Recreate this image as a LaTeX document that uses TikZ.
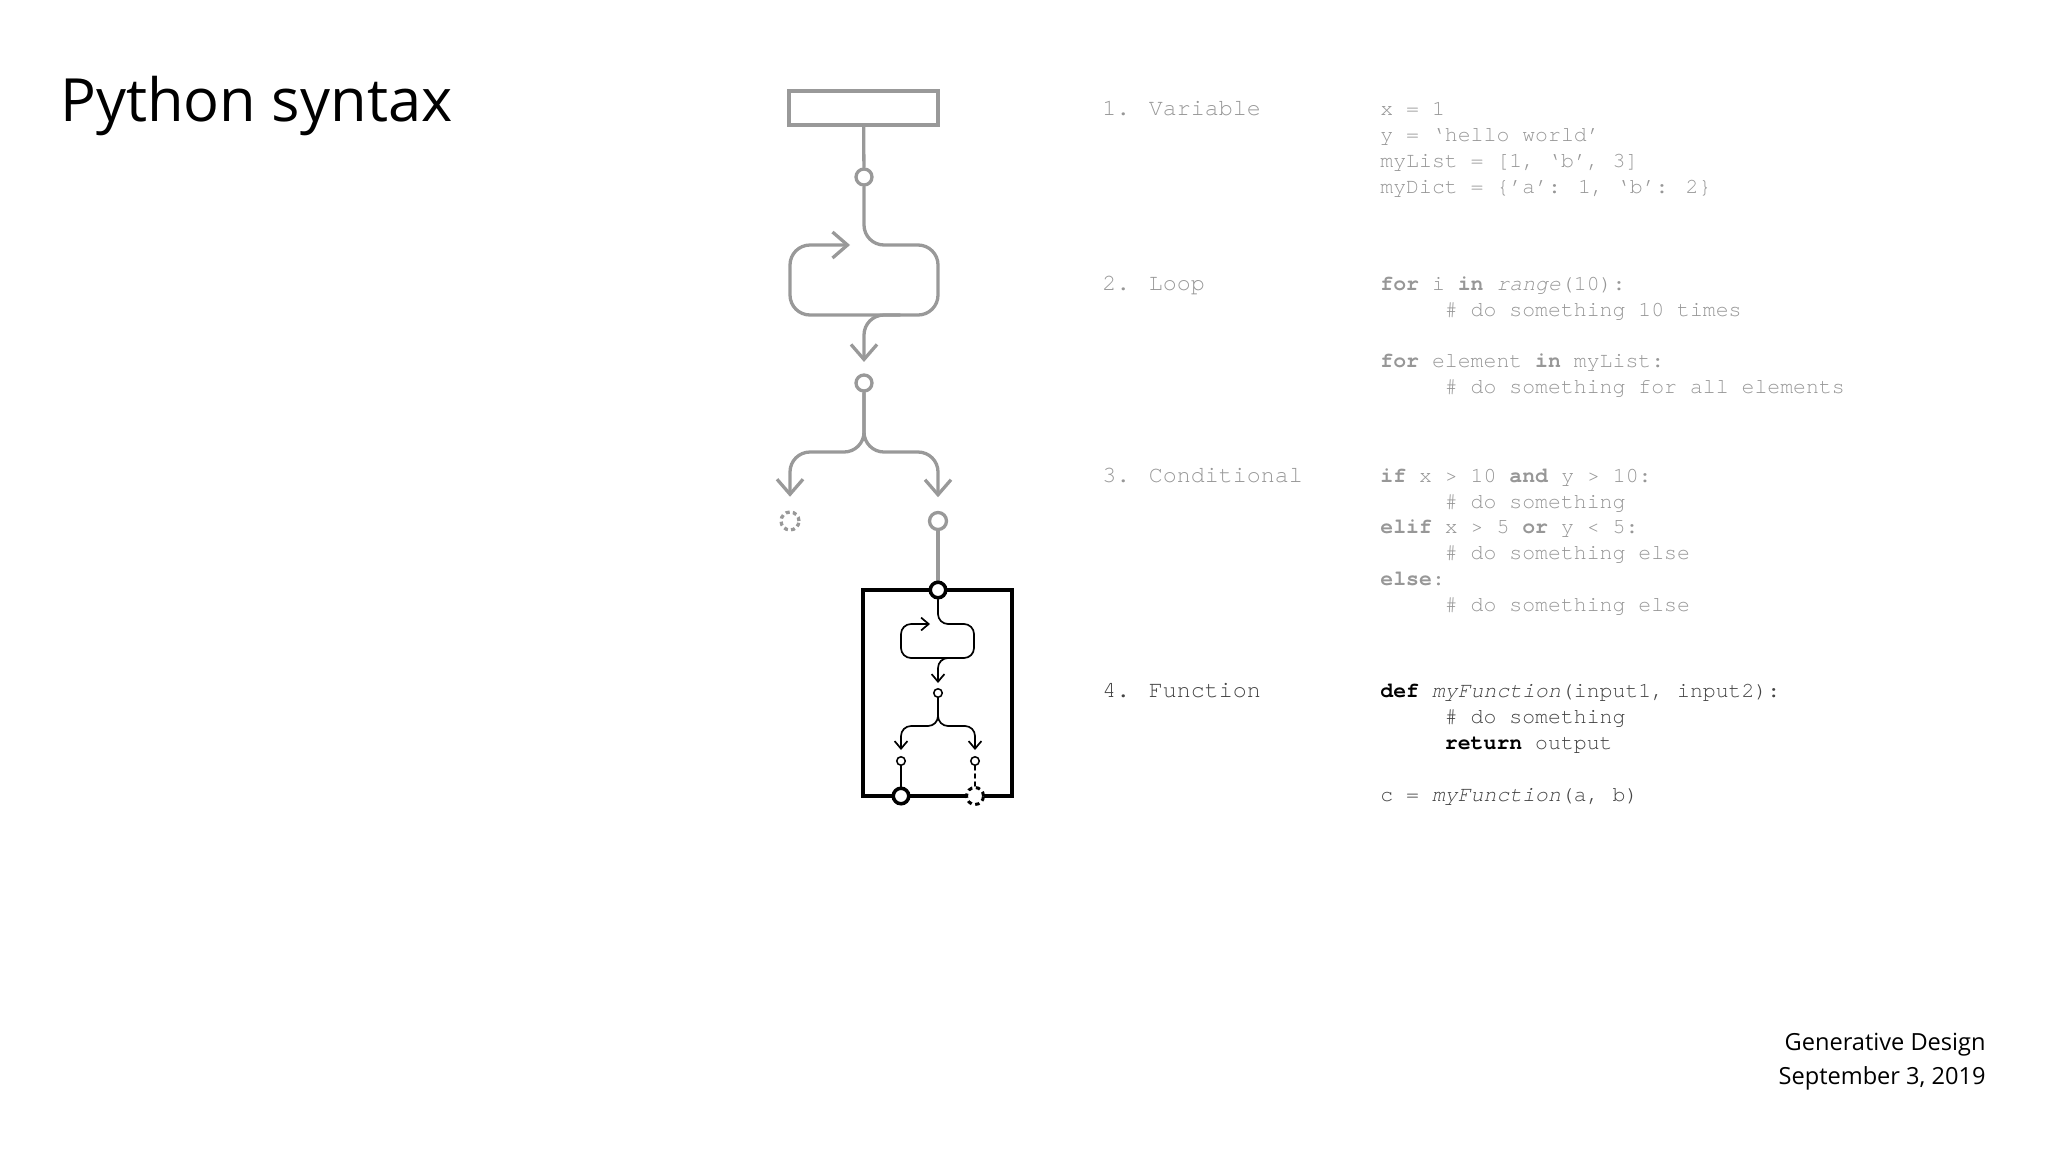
\documentclass[tikz,border=0pt]{standalone}
\usepackage{fontspec}
\setmainfont{Open Sans}
\newfontfamily\codefont{texgyrecursor}[Extension=.otf, UprightFont=*-regular, BoldFont=*-bold, ItalicFont=*-italic, BoldItalicFont=*-bolditalic]
\usetikzlibrary{arrows.meta}
\definecolor{lgray}{HTML}{999999}
\definecolor{tgray}{HTML}{979797}
\definecolor{tdark}{HTML}{444444}
\newcommand\codeind{\phantom{xxxxx}}
\newcommand\kwd[1]{\textbf{#1}}
\newcommand\dkwd[1]{\textbf{\color{black}#1}}
\tikzset{
  gline/.style={draw=lgray, line width=1.65pt, line cap=round, line join=round},
  bline/.style={draw=black, line width=0.85pt, line cap=round, line join=round},
  gtip/.style={-{Straight Barb[length=7.5pt,width=13pt]}},
  btip/.style={-{Straight Barb[length=3.8pt,width=6.4pt]}},
  gport/.style={circle, inner sep=0pt, minimum size=8pt, fill=white, draw=lgray, line width=1.65pt},
  gdport/.style={gport, minimum size=9pt, dash pattern=on 2pt off 1.6pt},
  bport/.style={circle, inner sep=0pt, minimum size=7.75pt, fill=white, draw=black, line width=1.75pt},
  bdport/.style={bport, minimum size=8.5pt, line width=1.5pt, dash pattern=on 2.2pt off 1.8pt},
  sport/.style={circle, inner sep=0pt, minimum size=4.25pt, fill=white, draw=black, line width=0.75pt},
  code/.style={anchor=base west, inner sep=0pt, font=\codefont\fontsize{10.75pt}{13pt}\selectfont, text=tgray},
  dcode/.style={code, text=tdark},
  lab/.style={code, font=\codefont\fontsize{11.65pt}{14pt}\selectfont},
  dlab/.style={lab, text=tdark},
}
\begin{document}
\begin{tikzpicture}[x=0.5pt,y=-0.5pt]
\useasboundingbox (0,0) rectangle (2048,1152);

% title and footer
\node[anchor=base west, inner sep=0pt, font=\fontsize{29.8pt}{36pt}\selectfont] (title) at (60,121) {Python syntax};
\node[anchor=base east, inner sep=0pt, font=\fontsize{11.8pt}{14pt}\selectfont] (ft1) at (1986,1050) {Generative Design};
\node[anchor=base east, inner sep=0pt, font=\fontsize{11.8pt}{14pt}\selectfont] (ft2) at (1986,1084) {September 3, 2019};

% ---- diagram ----
\node[draw=lgray, line width=1.65pt, minimum width=74.5pt, minimum height=17pt, inner sep=0pt] (var) at (863.5,108) {};
\node[gport] (c1) at (864,177) {};
\node[gport] (c2) at (864,383) {};
\node[gdport] (cl) at (790,521) {};
\node[gport, minimum size=8.5pt] (cr) at (938,521) {};

\draw[gline] (var) -- (c1);
% loop
\draw[gline, gtip, rounded corners=10pt] (c1) -- (864,245) -- (938,245) -- (938,315) -- (790,315) -- (790,245) -- (850,245);
\draw[gline, gtip, rounded corners=10pt, shorten >=5.7pt] (900,315) -- (864,315) -- (c2);
% conditional
\draw[gline, gtip, rounded corners=10pt, shorten >=6.8pt] (c2) -- (864,452) -- (790,452) -- (cl);
\draw[gline, gtip, rounded corners=10pt, shorten >=6.8pt] (c2) -- (864,452) -- (938,452) -- (cr);

% function box
\node[draw=black, line width=1.75pt, minimum width=74.5pt, minimum height=103pt, inner sep=0pt] (fbox) at (937.5,693) {};
\draw[gline] (cr) -- (938,590);
\node[bport] (fin) at (938,590) {};

\node[sport] (s1) at (938,693) {};
\node[sport] (s2) at (901,761) {};
\node[sport] (s3) at (975,761) {};

\draw[bline, btip, rounded corners=5pt] (fin) -- (938,624) -- (974,624) -- (974,658) -- (901,658) -- (901,624) -- (930,624);
\draw[bline, btip, rounded corners=5pt, shorten >=2.5pt] (955,658) -- (938,658) -- (s1);
\draw[bline, btip, rounded corners=5pt, shorten >=3pt] (s1) -- (938,726) -- (901,726) -- (s2);
\draw[bline, btip, rounded corners=5pt, shorten >=3pt] (s1) -- (938,726) -- (975,726) -- (s3);

\draw[bline] (s2) -- (901,796);
\draw[bline, dash pattern=on 2pt off 2pt] (s3) -- (975,796);
\node[bport] (fo1) at (901,796) {};
\node[bdport] (fo2) at (975,796) {};

% ---- text ----
\node[lab] (l1) at (1102,115) {1. Variable};
\node[code] (v1) at (1380,115) {x = 1};
\node[code] (v2) at (1380,141) {y = ‘hello world’};
\node[code] (v3) at (1380,167) {myList = [1, ‘b’, 3]};
\node[code] (v4) at (1380,193) {myDict = \{’a’: 1, ‘b’: 2\}};

\node[lab] (l2) at (1102,290) {2. Loop};
\node[code] (p1) at (1380,290) {\kwd{for} i \kwd{in} \textit{range}(10):};
\node[code] (p2) at (1380,316) {\codeind\# do something 10 times};
\node[code] (p3) at (1380,367) {\kwd{for} element \kwd{in} myList:};
\node[code] (p4) at (1380,393) {\codeind\# do something for all elements};

\node[lab] (l3) at (1102,482) {3. Conditional};
\node[code] (q1) at (1380,482) {\kwd{if} x > 10 \kwd{and} y > 10:};
\node[code] (q2) at (1380,508) {\codeind\# do something};
\node[code] (q3) at (1380,533) {\kwd{elif} x > 5 \kwd{or} y < 5:};
\node[code] (q4) at (1380,559) {\codeind\# do something else};
\node[code] (q5) at (1380,585) {\kwd{else}:};
\node[code] (q6) at (1380,611) {\codeind\# do something else};

\node[dlab] (l4) at (1102,697) {4. Function};
\node[dcode] (r1) at (1380,697) {\dkwd{def} \textit{myFunction}(input1, input2):};
\node[dcode] (r2) at (1380,723) {\codeind\# do something};
\node[dcode] (r3) at (1380,749) {\codeind\dkwd{return} output};
\node[dcode] (r4) at (1380,801) {c = \textit{myFunction}(a, b)};
\end{tikzpicture}
\end{document}
